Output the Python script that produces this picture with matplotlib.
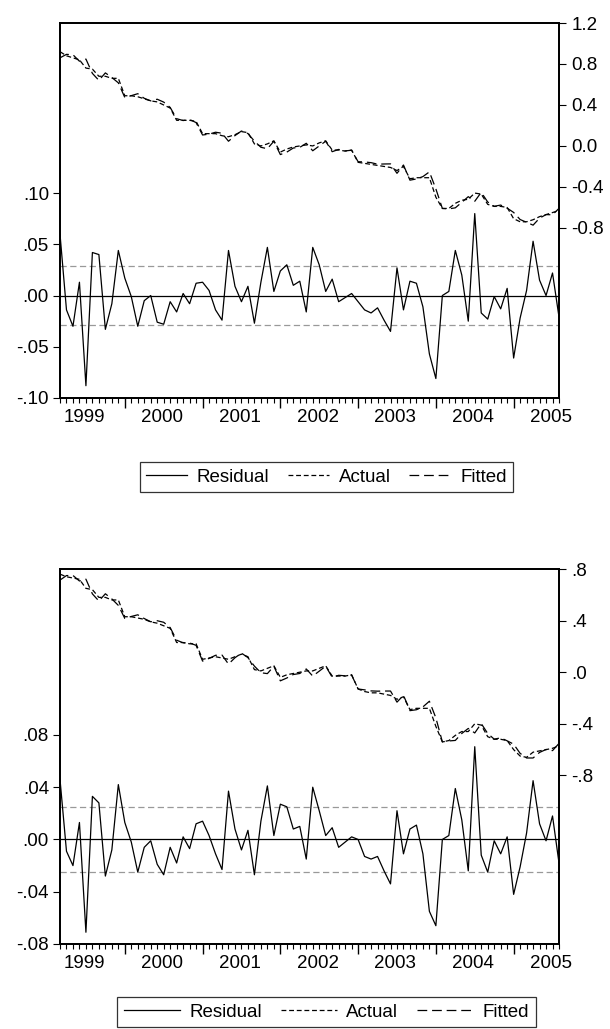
import numpy as np
import pandas as pd
import matplotlib
matplotlib.use("Agg")
import matplotlib.pyplot as plt
from matplotlib.lines import Line2D

plt.rcParams['font.family'] = ['Liberation Sans', 'DejaVu Sans']
plt.rcParams['lines.scale_dashes'] = False

# monthly sample, 1999M03 - 2005M08
start_month = '1999-03'
n_obs = 78

# ---- upper model ----
top_residual = [0.060, -0.014, -0.030, 0.013, -0.088, 0.042, 0.040, -0.033, -0.008, 0.044,
                0.017, -0.001, -0.030, -0.005, 0.000, -0.026, -0.028, -0.006, -0.016, 0.002,
                -0.008, 0.012, 0.013, 0.005, -0.014, -0.024, 0.044, 0.009, -0.006, 0.009,
                -0.027, 0.013, 0.047, 0.004, 0.024, 0.030, 0.010, 0.014, -0.016, 0.047,
                0.030, 0.004, 0.016, -0.006, -0.002, 0.002, -0.006, -0.014, -0.017, -0.012,
                -0.024, -0.035, 0.027, -0.014, 0.014, 0.012, -0.011, -0.057, -0.081, 0.000,
                0.004, 0.044, 0.020, -0.025, 0.080, -0.017, -0.023, -0.001, -0.013, 0.007,
                -0.061, -0.022, 0.005, 0.053, 0.015, 0.000, 0.022, -0.021]
top_actual = [0.92, 0.88, 0.86, 0.84, 0.76, 0.75, 0.68, 0.68, 0.66, 0.66,
              0.49, 0.49, 0.48, 0.46, 0.44, 0.43, 0.40, 0.37, 0.25, 0.25,
              0.25, 0.24, 0.12, 0.12, 0.12, 0.10, 0.09, 0.11, 0.14, 0.13,
              0.02, 0.00, 0.02, 0.05, -0.06, -0.03, -0.01, 0.00, 0.01, 0.00,
              0.03, 0.05, -0.04, -0.04, -0.05, -0.04, -0.16, -0.17, -0.18, -0.19,
              -0.20, -0.21, -0.24, -0.20, -0.32, -0.31, -0.31, -0.31, -0.50, -0.61,
              -0.61, -0.56, -0.53, -0.52, -0.46, -0.47, -0.57, -0.59, -0.59, -0.60,
              -0.71, -0.74, -0.74, -0.72, -0.69, -0.67, -0.65, -0.63]
top_fitted = [0.860, 0.894, 0.890, 0.827, 0.848, 0.708, 0.640, 0.713, 0.668, 0.616,
              0.473, 0.491, 0.510, 0.465, 0.440, 0.456, 0.428, 0.376, 0.266, 0.248,
              0.258, 0.228, 0.107, 0.115, 0.134, 0.124, 0.046, 0.101, 0.146, 0.121,
              0.047, -0.013, -0.027, 0.046, -0.084, -0.060, -0.020, -0.014, 0.026, -0.047,
              0.000, 0.046, -0.056, -0.034, -0.048, -0.042, -0.154, -0.156, -0.163, -0.178,
              -0.176, -0.175, -0.267, -0.186, -0.334, -0.322, -0.299, -0.253, -0.419, -0.610,
              -0.614, -0.604, -0.550, -0.495, -0.540, -0.453, -0.547, -0.589, -0.577, -0.607,
              -0.649, -0.718, -0.745, -0.773, -0.705, -0.670, -0.672, -0.609]
top_se = 0.0292
top_left_ticks = [-0.10, -0.05, 0.00, 0.05, 0.10]
top_left_labels = ['-.10', '-.05', '.00', '.05', '.10']
top_right_ticks = [-0.8, -0.4, 0.0, 0.4, 0.8, 1.2]
top_right_labels = ['-0.8', '-0.4', '0.0', '0.4', '0.8', '1.2']
top_left_lim = (-0.10, 0.266)
top_right_lim = (-2.46, 1.2)

# ---- lower model ----
bot_residual = [0.046, -0.009, -0.020, 0.013, -0.071, 0.033, 0.028, -0.028, -0.008, 0.042,
                0.013, -0.002, -0.025, -0.006, -0.001, -0.019, -0.027, -0.006, -0.018, 0.002,
                -0.007, 0.012, 0.014, 0.003, -0.011, -0.023, 0.037, 0.008, -0.008, 0.007,
                -0.027, 0.014, 0.041, 0.003, 0.027, 0.025, 0.008, 0.010, -0.015, 0.040,
                0.022, 0.003, 0.009, -0.006, -0.002, 0.002, 0.000, -0.013, -0.015, -0.013,
                -0.024, -0.034, 0.022, -0.011, 0.008, 0.011, -0.011, -0.055, -0.066, 0.000,
                0.003, 0.039, 0.015, -0.024, 0.071, -0.012, -0.025, -0.001, -0.011, 0.002,
                -0.042, -0.021, 0.005, 0.045, 0.012, -0.001, 0.018, -0.018]
bot_actual = [0.76, 0.74, 0.73, 0.72, 0.65, 0.64, 0.58, 0.58, 0.56, 0.56,
              0.43, 0.43, 0.42, 0.41, 0.39, 0.38, 0.36, 0.34, 0.23, 0.23,
              0.22, 0.22, 0.10, 0.11, 0.12, 0.11, 0.10, 0.12, 0.14, 0.12,
              0.02, 0.01, 0.03, 0.05, -0.04, -0.02, -0.01, 0.00, 0.01, 0.01,
              0.03, 0.05, -0.03, -0.03, -0.03, -0.02, -0.13, -0.15, -0.16, -0.16,
              -0.17, -0.18, -0.21, -0.19, -0.29, -0.28, -0.28, -0.28, -0.42, -0.54,
              -0.53, -0.49, -0.46, -0.46, -0.40, -0.41, -0.50, -0.52, -0.52, -0.53,
              -0.60, -0.65, -0.66, -0.62, -0.61, -0.60, -0.59, -0.57]
bot_fitted = [0.714, 0.749, 0.750, 0.707, 0.721, 0.607, 0.552, 0.608, 0.568, 0.518,
              0.417, 0.432, 0.445, 0.416, 0.391, 0.399, 0.387, 0.346, 0.248, 0.228,
              0.227, 0.208, 0.086, 0.107, 0.131, 0.133, 0.063, 0.112, 0.148, 0.113,
              0.047, -0.004, -0.011, 0.047, -0.067, -0.045, -0.018, -0.010, 0.025, -0.030,
              0.008, 0.047, -0.039, -0.024, -0.028, -0.022, -0.130, -0.137, -0.145, -0.147,
              -0.146, -0.146, -0.232, -0.179, -0.298, -0.291, -0.269, -0.225, -0.354, -0.540,
              -0.533, -0.529, -0.475, -0.436, -0.471, -0.398, -0.475, -0.519, -0.509, -0.532,
              -0.558, -0.629, -0.665, -0.665, -0.622, -0.599, -0.608, -0.552]
bot_se = 0.0251
bot_left_ticks = [-0.08, -0.04, 0.00, 0.04, 0.08]
bot_left_labels = ['-.08', '-.04', '.00', '.04', '.08']
bot_right_ticks = [-0.8, -0.4, 0.0, 0.4, 0.8]
bot_right_labels = ['-.8', '-.4', '.0', '.4', '.8']
bot_left_lim = (-0.08, 0.207)
bot_right_lim = (-2.107, 0.8)

FS = 13.5
actual_dash = (3.5, 2.0)
fitted_dash = (7.0, 3.5)


def draw_panel(fig, rect, residual, actual, fitted, se,
               lticks, llabels, rticks, rlabels, llim, rlim):
    months = pd.period_range(start_month, periods=n_obs, freq='M')
    x = np.arange(n_obs)

    ax = fig.add_axes(rect)
    ax2 = ax.twinx()

    # residual part (left scale)
    ax.axhline(0, color='black', lw=0.9)
    ax.axhline(se, color='#999999', lw=0.9, dashes=(4.5, 2.5))
    ax.axhline(-se, color='#999999', lw=0.9, dashes=(4.5, 2.5))
    ax.plot(x, residual, color='black', lw=0.9)
    ax.set_ylim(*llim)
    ax.set_yticks(lticks)
    ax.set_yticklabels(llabels)

    # actual / fitted (right scale)
    ax2.plot(x, actual, color='black', lw=0.9, dashes=actual_dash)
    ax2.plot(x, fitted, color='black', lw=0.9, dashes=fitted_dash)
    ax2.set_ylim(*rlim)
    ax2.set_yticks(rticks)
    ax2.set_yticklabels(rlabels)

    ax.set_xlim(0, n_obs - 1)
    jan = [i for i, m in enumerate(months) if m.month == 1]
    ax.set_xticks(jan)
    ax.set_xticklabels([])
    ax.set_xticks(x, minor=True)
    ax.tick_params(axis='x', which='major', length=7, width=1.0, direction='out')
    ax.tick_params(axis='x', which='minor', length=3.5, width=0.8, direction='out')
    ax.tick_params(axis='y', length=5, width=0.8, pad=3, labelsize=FS)
    ax2.tick_params(axis='y', length=5, width=0.8, pad=4, labelsize=FS)

    # year labels in the middle of each year
    years = sorted(set(m.year for m in months))
    for yr in years:
        first_jan = (pd.Period(f'{yr}-01', freq='M') - months[0]).n
        xpos = first_jan + 5.75
        ax.text(xpos, -0.03, str(yr), transform=ax.get_xaxis_transform(),
                ha='center', va='top', fontsize=FS)

    for a in (ax, ax2):
        for sp in a.spines.values():
            sp.set_linewidth(1.3)
    return ax


fig = plt.figure(figsize=(6.1, 10.29), dpi=100)

draw_panel(fig, [60 / 610, 1 - 398 / 1029, 499 / 610, 375 / 1029],
           top_residual, top_actual, top_fitted, top_se,
           top_left_ticks, top_left_labels, top_right_ticks, top_right_labels,
           top_left_lim, top_right_lim)
draw_panel(fig, [60 / 610, 1 - 944 / 1029, 499 / 610, 375 / 1029],
           bot_residual, bot_actual, bot_fitted, bot_se,
           bot_left_ticks, bot_left_labels, bot_right_ticks, bot_right_labels,
           bot_left_lim, bot_right_lim)

# legends
handles = [Line2D([], [], color='black', lw=0.9),
           Line2D([], [], color='black', lw=0.9, dashes=actual_dash),
           Line2D([], [], color='black', lw=0.9, dashes=fitted_dash)]
names = ['Residual', 'Actual', 'Fitted']

for ypos, hl in ((1 - 462 / 1029, 2.2), (1 - 997 / 1029, 3.0)):
    leg = fig.legend(handles, names, loc='upper center', bbox_to_anchor=(0.535, ypos),
                     ncol=3, fontsize=FS, frameon=True, fancybox=False,
                     handlelength=hl, handletextpad=0.5, columnspacing=1.0,
                     borderpad=0.35, borderaxespad=0)
    leg.get_frame().set_edgecolor('black')
    leg.get_frame().set_linewidth(0.9)

fig.savefig('out.png', dpi=100)
